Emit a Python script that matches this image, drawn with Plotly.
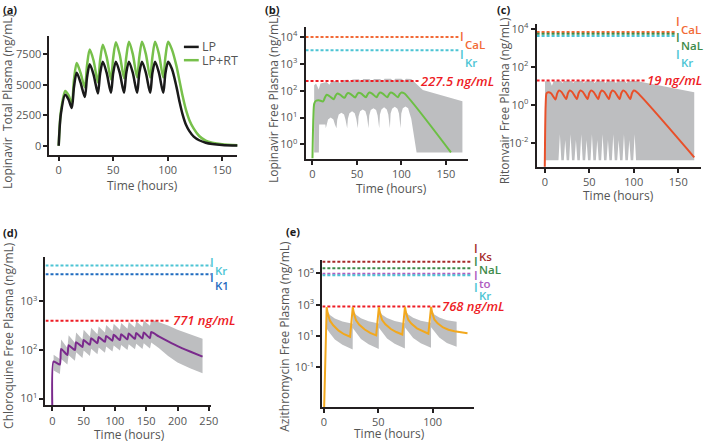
import plotly.graph_objects as go

W, H = 709, 443
FONT = "Open Sans, Noto Sans, sans-serif"

# ---------------- DATA ----------------
# (a) Lopinavir total plasma (ng/mL)
t_a = [0, 2, 6, 9, 12, 14, 16.5, 20, 24, 26, 28.5, 32, 36, 38, 40.5, 44, 48, 50, 52.5, 56, 60,
       62, 64.5, 68, 72, 74, 76.5, 80, 84, 86, 88.5, 92, 96, 98, 100.5, 104,
       108, 111, 114, 117, 120, 124, 129, 135, 141, 150, 165]
lp = [0, 2600, 4200, 3800, 3100, 4800, 6000, 5200, 4000, 5600, 6700, 5850, 4300, 5900, 6900, 6000, 4350,
      5950, 6900, 6000, 4350, 5950, 6900, 6000, 4350, 5950, 6900, 6000, 4350, 5950, 6900, 6000, 4350,
      5950, 6900, 6300, 4900, 3600, 2500, 1700, 1200, 750, 450, 250, 150, 70, 20]
lp_rt = [0, 2800, 4500, 4150, 3450, 5400, 6800, 6000, 4800, 6600, 7900, 7000, 5200, 7000, 8300, 7300, 5450,
         7200, 8500, 7500, 5550, 7250, 8550, 7550, 5600, 7250, 8550, 7550, 5600, 7250, 8550, 7550, 5600,
         7300, 8550, 7900, 6600, 5300, 4000, 2900, 2100, 1400, 800, 420, 250, 120, 30]
a_legend = ["LP", "LP+RT"]

# (b) Lopinavir free plasma
t_b = [0, 1, 2, 4, 7, 12, 14, 16, 19, 24, 26, 28, 31, 36, 38, 40, 43, 48, 50, 52, 55, 60, 62, 64, 67, 72,
       74, 76, 79, 84, 86, 88, 91, 96, 98, 100, 103, 155.6]
lpv_free = [0.3, 10, 33, 42, 44, 40, 56, 70, 63, 48, 66, 78, 71, 54, 70, 82, 75, 56, 72, 84, 77, 57,
            73, 85, 78, 57, 73, 85, 78, 57, 73, 85, 78, 57, 74, 86, 80, 0.5]
t_b_lo = [1.9, 7.2, 7.5, 14.5, 15, 15.8, 17.5, 20.5, 23.5, 25.2, 27, 27.8, 29.5, 32.5, 35.5, 37.2, 39,
          39.8, 41.5, 44.5, 47.5, 49.2, 51, 51.8, 53.5, 56.5, 59.5, 61.2, 63, 63.8, 65.5, 68.5, 71.5, 73.2, 75,
          75.8, 77.5, 80.5, 83.5, 85.2, 87, 87.8, 89.5, 92.5, 95.5, 97.2, 99, 99.8, 101.5, 104.5, 107.5, 109.2,
          111, 117, 168.5]
lpv_lo = [0.5, 0.5, 5.5, 5.5, 4, 5.5, 8.5, 10, 8.5, 5.5, 4, 8, 13, 15, 13, 8, 4, 9, 14.5, 17, 14.5, 9, 4,
          11, 17, 20, 17, 11, 4, 12, 19, 22, 19, 12, 4, 13, 20, 24, 20, 13, 4, 14, 21, 25, 21, 14, 4,
          14, 22, 26, 22, 14, 9, 0.5, 0.5]
t_b_up = [1.9, 4, 7, 9, 16, 19, 21, 28, 31, 33, 40, 43, 45, 52, 55, 57, 64, 67, 69, 76, 79, 81, 88, 91, 93,
          100, 103, 105, 111, 124, 168.5]
lpv_up = [160, 185, 110, 185, 210, 165, 215, 240, 190, 245, 255, 205, 260, 265, 215, 270, 270, 220, 275,
          275, 225, 280, 280, 230, 280, 280, 235, 280, 270, 107, 40]
b_thr_names = ["CaL", "Kr"]
b_thr_vals = [10000, 3200]
b_thr_end = 164
b_red = 227.5
b_red_end = 120

# (c) Ritonavir free plasma
t_c = [0, 1, 2, 4, 7, 12, 14, 16, 19, 24, 26, 28, 31, 36, 38, 40, 43, 48, 50, 52, 55, 60, 62, 64, 67, 72,
       74, 76, 79, 84, 86, 88, 91, 96, 98, 100, 103, 168]
rtv_free = [0.0005, 1.0, 4.0, 4.5, 4.0, 1.9, 4.0, 5.6, 4.6, 2.0, 4.0, 5.6, 4.6, 2.0, 4.0, 5.6, 4.6, 2.0,
            4.0, 5.6, 4.6, 2.0, 4.0, 5.6, 4.6, 2.0, 4.0, 5.6, 4.6, 2.0, 4.0, 5.6, 4.6, 2.0, 4.0, 5.6, 4.8, 0.0017]
t_c_up = [0.3, 6, 8, 10, 18, 20, 22, 30, 32, 34, 42, 44, 46, 54, 56, 58, 66, 68, 70, 78, 80, 82, 90, 92, 94, 103, 168]
rtv_up = [17, 17, 10, 17, 18, 14, 18, 18, 14, 18, 18, 14, 18, 18, 14, 18, 18, 14, 18, 18, 14, 18, 18, 14, 18, 18, 4.5]
t_c_lo = [0.3, 15.4, 17, 18.6, 21.4, 23, 24.6, 27.4, 29, 30.6, 33.4, 35, 36.6, 39.4, 41, 42.6, 45.4, 47, 48.6,
          51.4, 53, 54.6, 57.4, 59, 60.6, 63.4, 65, 66.6, 69.4, 71, 72.6, 75.4, 77, 78.6, 81.4, 83, 84.6,
          87.4, 89, 90.6, 93.4, 95, 96.6, 99.4, 101, 102.6, 168]
rtv_lo = [0.0012, 0.0012, 0.028, 0.0012, 0.0012, 0.014, 0.0012, 0.0012, 0.028, 0.0012, 0.0012, 0.014, 0.0012,
          0.0012, 0.028, 0.0012, 0.0012, 0.014, 0.0012, 0.0012, 0.028, 0.0012, 0.0012, 0.014, 0.0012,
          0.0012, 0.028, 0.0012, 0.0012, 0.014, 0.0012, 0.0012, 0.028, 0.0012, 0.0012, 0.014, 0.0012,
          0.0012, 0.028, 0.0012, 0.0012, 0.014, 0.0012, 0.0012, 0.028, 0.0012, 0.0012]
c_thr_names = ["CaL", "NaL", "Kr"]
c_thr_vals = [6800, 5500, 4200]
c_thr_end = 148
c_red = 19
c_red_end = 113

# (d) Chloroquine free plasma
t_d = [0, 2, 12, 14, 24, 26, 36, 38, 48, 50, 60, 62, 72, 74, 84, 86, 96, 98, 108, 110, 120, 122,
       132, 134, 144, 146, 156, 158, 170, 185, 200, 220, 240]
cq_free = [5, 58, 50, 105, 79, 125, 100, 145, 115, 160, 128, 175, 138, 185, 147, 195, 155, 205, 160, 212,
           165, 218, 169, 224, 172, 229, 175, 234, 190, 150, 120, 93, 73]
t_d_band = [2, 12, 14, 24, 26, 36, 38, 48, 50, 60, 62, 72, 74, 84, 86, 96, 98, 108, 110, 120, 122,
            132, 134, 144, 146, 156, 158, 170, 185, 200, 220, 240]
cq_up = [80, 65, 165, 110, 200, 140, 230, 165, 260, 190, 285, 210, 305, 230, 325, 245, 345, 260, 360, 275,
         375, 290, 390, 300, 405, 315, 425, 380, 320, 260, 210, 170]
cq_lo = [38, 32, 65, 50, 78, 60, 90, 68, 98, 75, 106, 82, 112, 88, 118, 93, 123, 97, 127, 100, 131, 103,
         135, 105, 138, 107, 142, 110, 75, 55, 42, 33]
d_thr_names = ["Kr", "K1"]
d_thr_vals = [5500, 3600]
d_thr_end = 254
d_red = 400
d_red_label = "771 ng/mL"
d_red_end = 188

# (e) Azithromycin free plasma
t_e = [0, 2.5, 3.5, 5.5, 8.5, 13.5, 18.5, 24, 26.5, 27.5, 29.5, 32.5, 37.5, 42.5, 48, 50.5, 51.5, 53.5,
       56.5, 61.5, 66.5, 72, 74.5, 75.5, 77.5, 80.5, 85.5, 90.5, 96, 98.5, 99.5, 101.5, 104.5, 109.5,
       114.5, 120, 126, 132]
azi_free = [0.0001, 700, 260, 95, 48, 22, 13, 9, 700, 270, 100, 52, 26, 16, 11, 700, 280, 105, 56, 28, 18,
            12.5, 720, 290, 110, 60, 31, 20, 14, 720, 300, 115, 64, 35, 25, 20, 17, 15]
t_e_band = [2.5, 3.5, 5.5, 10, 17, 26.4, 26.5, 27.5, 29.5, 34, 41, 50.4, 50.5, 51.5, 53.5, 58, 65, 74.4,
            74.5, 75.5, 77.5, 82, 89, 98.4, 98.5, 99.5, 101.5, 106, 113, 122]
azi_up = [700, 380, 220, 130, 85, 60, 700, 390, 225, 135, 88, 62, 710, 400, 230, 140, 90, 65,
          720, 410, 235, 145, 95, 70, 720, 420, 240, 150, 100, 80]
azi_lo = [30, 25, 15, 6, 2.8, 1.4, 32, 26, 16, 6.5, 3, 1.5, 34, 27, 17, 7, 3.2, 1.6,
          35, 28, 18, 7.5, 3.4, 1.8, 36, 29, 18, 8, 3.6, 2.1]
e_thr_names = ["Ks", "NaL", "to", "Kr"]
e_thr_vals = [550000, 210000, 95000, 74000]
e_thr_end = 136
e_red = 768
e_red_end = 107.5

# ---------------- STYLE ----------------
GRAY = "#bdbec0"
RED = "#ee1c25"
CH_COL = {"CaL": "#f26a36", "Kr": "#4cc4d4", "NaL": "#3d8a4a", "K1": "#1f6bbf",
          "Ks": "#a52a2a", "to": "#b05cc0"}
DOT = "3px,2px"
TXT = "#555555"

fig = go.Figure()


def band(t_lo, lo, t_up, up, xa, ya):
    fig.add_trace(go.Scatter(x=t_lo, y=lo, mode="lines", line=dict(width=0, color=GRAY),
                             xaxis=xa, yaxis=ya, showlegend=False, hoverinfo="skip"))
    fig.add_trace(go.Scatter(x=t_up, y=up, mode="lines", line=dict(width=0, color=GRAY),
                             fill="tonexty", fillcolor=GRAY,
                             xaxis=xa, yaxis=ya, showlegend=False, hoverinfo="skip"))


def hline(x0, x1, v, color, xa, ya):
    fig.add_trace(go.Scatter(x=[x0, x1], y=[v, v], mode="lines",
                             line=dict(width=2, color=color, dash=DOT),
                             xaxis=xa, yaxis=ya, showlegend=False, hoverinfo="skip"))


XR = {"a": [-8.5, 164], "b": [-7.8, 174.4], "c": [-9.2, 175.6], "d": [-11, 254], "e": [-1.5, 137.6]}
GREEN_A = "#77c04b"

# (a)
fig.add_trace(go.Scatter(x=t_a, y=lp_rt, mode="lines", name=a_legend[1],
                         line=dict(color=GREEN_A, width=2.5, shape="spline", smoothing=0.8),
                         xaxis="x", yaxis="y", showlegend=False))
fig.add_trace(go.Scatter(x=t_a, y=lp, mode="lines", name=a_legend[0],
                         line=dict(color="#1a1a1a", width=2.5, shape="spline", smoothing=0.8),
                         xaxis="x", yaxis="y", showlegend=False))

# (b)
band(t_b_lo, lpv_lo, t_b_up, lpv_up, "x2", "y2")
for n, v in zip(b_thr_names, b_thr_vals):
    hline(XR["b"][0], b_thr_end, v, CH_COL[n], "x2", "y2")
hline(XR["b"][0], b_red_end, b_red, RED, "x2", "y2")
fig.add_trace(go.Scatter(x=t_b, y=lpv_free, mode="lines",
                         line=dict(color="#6cbf44", width=2, shape="spline", smoothing=0.7),
                         xaxis="x2", yaxis="y2", showlegend=False))

# (c)
band(t_c_lo, rtv_lo, t_c_up, rtv_up, "x3", "y3")
for n, v in zip(c_thr_names, c_thr_vals):
    hline(XR["c"][0], c_thr_end, v, CH_COL[n], "x3", "y3")
hline(XR["c"][0], c_red_end, c_red, RED, "x3", "y3")
fig.add_trace(go.Scatter(x=t_c, y=rtv_free, mode="lines",
                         line=dict(color="#e8502a", width=2, shape="spline", smoothing=0.7),
                         xaxis="x3", yaxis="y3", showlegend=False))

# (d)
band(t_d_band, cq_lo, t_d_band, cq_up, "x4", "y4")
for n, v in zip(d_thr_names, d_thr_vals):
    hline(XR["d"][0], d_thr_end, v, CH_COL[n], "x4", "y4")
hline(XR["d"][0], d_red_end, d_red, RED, "x4", "y4")
fig.add_trace(go.Scatter(x=t_d, y=cq_free, mode="lines",
                         line=dict(color="#7a2a8c", width=2, shape="spline", smoothing=0.5),
                         xaxis="x4", yaxis="y4", showlegend=False))

# (e)
band(t_e_band, azi_lo, t_e_band, azi_up, "x5", "y5")
for n, v in zip(e_thr_names, e_thr_vals):
    hline(XR["e"][0], e_thr_end, v, CH_COL[n], "x5", "y5")
hline(XR["e"][0], e_red_end, e_red, RED, "x5", "y5")
fig.add_trace(go.Scatter(x=t_e, y=azi_free, mode="lines",
                         line=dict(color="#f2a81d", width=2),
                         xaxis="x5", yaxis="y5", showlegend=False))

# ---------------- LAYOUT ----------------
def dx(x0, x1):
    return [x0 / W, x1 / W]


def dy(y0, y1):
    return [1 - y1 / H, 1 - y0 / H]


base = dict(showline=True, linecolor="#231f20", linewidth=2, ticks="outside", ticklen=4,
            tickwidth=1.5, tickcolor="#231f20", showgrid=False, zeroline=False,
            tickfont=dict(family=FONT, size=11, color=TXT))


def logax(r, exps, dom, anchor):
    d = dict(base)
    d.update(type="log", range=r, domain=dom, anchor=anchor,
             tickvals=[10 ** k for k in exps],
             ticktext=["10<sup>%d</sup>" % k for k in exps])
    return d


def linx(r, tv, dom, anchor):
    d = dict(base)
    d.update(range=r, domain=dom, anchor=anchor, tickvals=tv)
    return d


lay = dict(
    width=W, height=H, margin=dict(l=0, r=0, t=0, b=0),
    paper_bgcolor="white", plot_bgcolor="white",
    font=dict(family=FONT, size=11, color=TXT),
    xaxis=linx(XR["a"], [0, 50, 100, 150], dx(49, 239), "y"),
    yaxis=dict(base, range=[-730, 9040], tickvals=[0, 2500, 5000, 7500], domain=dy(32, 152), anchor="x"),
    xaxis2=linx(XR["b"], [0, 50, 100, 150], dx(308, 472), "y2"),
    yaxis2=logax([-0.53, 4.38], [0, 1, 2, 3, 4], dy(23, 156), "x2"),
    xaxis3=linx(XR["c"], [0, 50, 100, 150], dx(541.7, 708), "y3"),
    yaxis3=logax([-3.27, 4.26], [-2, 0, 2, 4], dy(20, 164.3), "x3"),
    xaxis4=linx(XR["d"], [0, 50, 100, 150, 200, 250], dx(45, 212.7), "y4"),
    yaxis4=logax([0.86, 3.92], [1, 2, 3], dy(255, 405), "x4"),
    xaxis5=linx(XR["e"], [0, 50, 100], dx(325, 478), "y5"),
    yaxis5=logax([-3.53, 5.87], [-1, 1, 3, 5], dy(258, 406.7), "x5"),
)
fig.update_layout(**lay)

anns = []


def ann(px, py, text, size=12, color=TXT, xanchor="center", yanchor="middle", angle=0,
        weight="normal", style="normal"):
    anns.append(dict(x=px / W, y=1 - py / H, xref="paper", yref="paper", text=text, showarrow=False,
                     xanchor=xanchor, yanchor=yanchor, textangle=angle, borderpad=0,
                     font=dict(family=FONT, size=size, color=color, weight=weight, style=style)))


# panel letters
for lab, px, py in [("(a)", 1, 6), ("(b)", 266, 6), ("(c)", 501, 6), ("(d)", 1, 231), ("(e)", 287, 230)]:
    ann(px, py, lab, size=11, color="#1a1a1a", xanchor="left", weight="bold")

# axis titles
ann(6, 98, "Lopinavir\u00a0 Total Plasma (ng/mL)", angle=-90)
ann(275, 95, "Lopinavir Free Plasma (ng/mL)", angle=-90)
ann(509, 98, "Ritonvair Free Plasma (ng/mL)", angle=-90)
ann(8, 334, "Chloroquine Free Plasma (ng/mL)", angle=-90)
ann(287, 335, "Azithromycin Free Plasma (ng/mL)", angle=-90)
for px, py in [(143, 183), (395, 186), (625, 193.5), (130, 434.5), (393, 433)]:
    ann(px, py, "Time (hours)")

# red threshold labels
ann(423, 78, "%s ng/mL" % b_red, size=13, color=RED, xanchor="left", weight=600, style="italic")
ann(652, 76.7, "%d ng/mL" % c_red, size=13, color=RED, xanchor="left", weight=600, style="italic")
ann(173, 319.3, d_red_label, size=13, color=RED, xanchor="left", weight=600, style="italic")
ann(445, 304.5, "%d ng/mL" % e_red, size=13, color=RED, xanchor="left", weight=600, style="italic")

# ion-channel labels: "I" bar with the channel name set below-right (as a subscript)
ch_pos = {"b": (466.7, [29, 47]), "c": (685, [14, 30, 46.7]), "d": (213, [256.7, 271.7]),
          "e": (480.7, [243, 256, 270, 282])}
for key, names in [("b", b_thr_names), ("c", c_thr_names), ("d", d_thr_names), ("e", e_thr_names)]:
    px, ys = ch_pos[key]
    for n, top in zip(names, ys):
        ann(px, top + 4, "I", size=12, color=CH_COL[n], xanchor="center", weight=600)
        ann(px + 2, top + 12, n, size=11.5, color=CH_COL[n], xanchor="left", weight=600)

# legend (a)
ann(202, 43.3, a_legend[0], size=12.5, xanchor="left")
ann(202, 56.7, a_legend[1], size=12.5, xanchor="left")
fig.update_layout(annotations=anns, shapes=[
    dict(type="line", xref="paper", yref="paper", x0=185 / W, x1=200 / W, y0=1 - 43.3 / H, y1=1 - 43.3 / H,
         line=dict(color="#1a1a1a", width=2.5)),
    dict(type="line", xref="paper", yref="paper", x0=185 / W, x1=200 / W, y0=1 - 56.7 / H, y1=1 - 56.7 / H,
         line=dict(color=GREEN_A, width=2.5)),
])

fig.write_html("out.html", config={"displayModeBar": False},
               post_script="document.body.style.margin='0';document.body.style.padding='0';")
